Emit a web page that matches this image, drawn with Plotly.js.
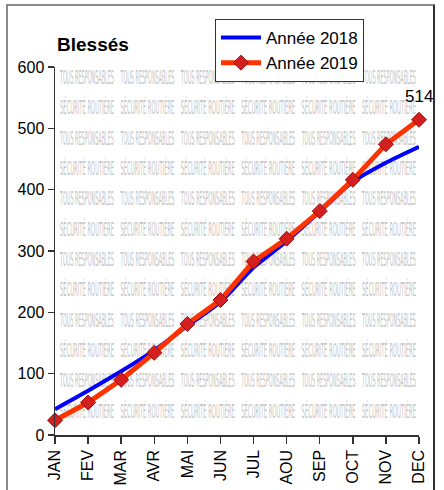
<!DOCTYPE html>
<html>
<head>
<meta charset="utf-8">
<script src="https://cdn.plot.ly/plotly-3.0.1.min.js"></script>
<style>
  html, body { margin: 0; padding: 0; background: #fff; }
  #chart { width: 444px; height: 490px; }
</style>
</head>
<body>
<div id="chart"></div>
<script>
// Injured people per month, cumulative
const months = ['JAN', 'FEV', 'MAR', 'AVR', 'MAI', 'JUN', 'JUL', 'AOU', 'SEP', 'OCT', 'NOV', 'DEC'];
const blesses2018 = [42, 72, 104, 138, 178, 217, 273, 316, 364, 413, 444, 470];
const blesses2019 = [24, 53, 90, 134, 181, 220, 283, 320, 365, 416, 474, 514];
const seriesNames = ['Année 2018', 'Année 2019'];
const watermarkLines = ['TOUS RESPONSABLES', 'SÉCURITÉ ROUTIÈRE'];

const W = 444, H = 490;
const M = { l: 55, r: 25, t: 67, b: 55 };
const plotW = W - M.l - M.r, plotH = H - M.t - M.b;
const monthIdx = months.map((m, i) => i);
const X_MAX = months.length - 1, Y_MAX = 600;

// pixel -> paper / data helpers for decorations
const px = x => (x - M.l) / plotW;
const py = y => (H - M.b - y) / plotH;

const FONT = 'Liberation Sans, Arial, sans-serif';
const SLOGAN_WIDTH = 54;

// background slogan pattern, drawn first so it sits under the curves
const wmX = [], wmY = [], wmT = [];
for (let r = 0; r < 12; r++) {
  for (let c = 0; c < 6; c++) {
    wmX.push(px(87 + c * 60.4) * X_MAX);
    wmY.push(py(79 + r * 30.35) * Y_MAX);
    wmT.push(watermarkLines[r % 2]);
  }
}

const traces = [
  {
    x: wmX, y: wmY, text: wmT, type: 'scatter', mode: 'text',
    textposition: 'middle center',
    textfont: { family: 'DejaVu Sans Condensed, Liberation Sans Narrow, sans-serif', size: 20, color: '#c6c6c6' },
    showlegend: false, hoverinfo: 'skip', cliponaxis: false
  },
  {
    x: monthIdx, y: blesses2018, name: seriesNames[0],
    type: 'scatter', mode: 'lines',
    line: { color: '#0000ff', width: 4, shape: 'spline', smoothing: 0.6 },
    hoverinfo: 'skip', cliponaxis: false
  },
  {
    x: monthIdx, y: blesses2019, name: seriesNames[1],
    type: 'scatter', mode: 'lines+markers',
    line: { color: '#ff3300', width: 5 },
    marker: { symbol: 'diamond', size: 11.5, color: '#d41f1f', line: { color: '#9a0d0d', width: 1 } },
    hoverinfo: 'skip', cliponaxis: false
  }
];

// value label on the last point of 2019
const last = blesses2019.length - 1;
const annotations = [{
  x: monthIdx[last], y: blesses2019[last], xref: 'x', yref: 'y',
  text: String(blesses2019[last]), showarrow: false,
  yshift: 23, font: { family: FONT, size: 17, color: '#000' }
}];

const frame = { xref: 'paper', yref: 'paper', layer: 'above' };
const layout = {
  width: W, height: H,
  margin: M,
  paper_bgcolor: '#fff', plot_bgcolor: '#fff',
  font: { family: FONT, color: '#000' },
  showlegend: true,
  title: {
    text: '<b>Blessés</b>', xref: 'container', yref: 'container',
    x: 57 / W, xanchor: 'left', y: 1 - 44 / H, yanchor: 'middle',
    font: { family: FONT, size: 19, color: '#000' }
  },
  xaxis: {
    range: [0, X_MAX], fixedrange: true,
    tickvals: monthIdx, ticktext: months,
    showgrid: false, zeroline: false,
    showline: true, linecolor: '#333', linewidth: 1.5,
    ticks: 'outside', ticklen: 7, tickcolor: '#333', tickwidth: 1.5,
    tickangle: -90, tickfont: { family: FONT, size: 16, color: '#000' }
  },
  yaxis: {
    range: [0, Y_MAX], dtick: 100, fixedrange: true,
    showgrid: false, zeroline: false,
    showline: true, linecolor: '#333', linewidth: 1.5,
    ticks: 'outside', ticklen: 6, tickcolor: '#333', tickwidth: 1.5,
    tickfont: { family: FONT, size: 16, color: '#000' }
  },
  legend: {
    x: px(215), y: py(19), xanchor: 'left', yanchor: 'top',
    bgcolor: '#fff', bordercolor: '#333', borderwidth: 1,
    font: { family: FONT, size: 17, color: '#000' },
    itemwidth: 40, entrywidth: 110
  },
  annotations: annotations,
  shapes: [
    Object.assign({ type: 'rect', x0: px(7), x1: px(434), y0: py(5), y1: py(494),
      line: { color: '#8a8a8a', width: 2 } }, frame),
    Object.assign({ type: 'line', x0: px(434), x1: px(434), y0: py(5), y1: py(494),
      line: { color: '#111', width: 1.5 } }, frame)
  ]
};

Plotly.newPlot('chart', traces, layout, { staticPlot: true, displayModeBar: false }).then(() => {
  // squeeze each slogan horizontally around its own centre
  document.querySelectorAll('.textpoint text').forEach(t => {
    if (!watermarkLines.includes(t.textContent)) return;
    const w = t.getComputedTextLength();
    if (!w) return;
    const k = SLOGAN_WIDTH / w;
    const cx = parseFloat(t.getAttribute('x')) || 0;
    t.setAttribute('transform', `translate(${cx},0) scale(${k},1) translate(${-cx},0)`);
  });
});
</script>
</body>
</html>
